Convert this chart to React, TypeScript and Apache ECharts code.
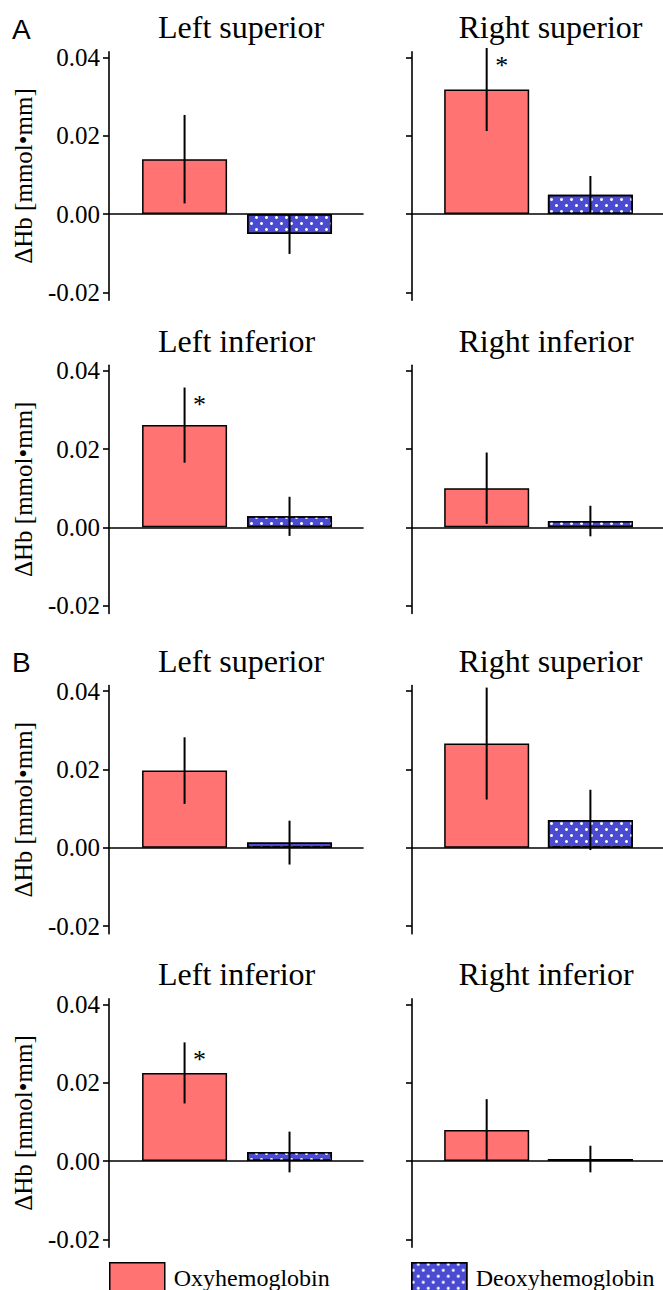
import React, { useEffect, useRef } from 'react';
import * as echarts from 'echarts';

const SERIF = "'Liberation Serif', 'Times New Roman', Times, serif";
const SANS = "'Liberation Sans', Arial, Helvetica, sans-serif";

// ---- data ----
const groupLabels = ['A', 'B'];
const panelTitles = [
  'Left superior', 'Right superior',
  'Left inferior', 'Right inferior',
  'Left superior', 'Right superior',
  'Left inferior', 'Right inferior',
];
const seriesNames = ['Oxyhemoglobin', 'Deoxyhemoglobin'];
const oxyMean = [0.0140, 0.0318, 0.0261, 0.0100, 0.0197, 0.0266, 0.0225, 0.0079];
const oxyErr = [0.0113, 0.0106, 0.0096, 0.0091, 0.0085, 0.0143, 0.0078, 0.0079];
const deoxyMean = [-0.0051, 0.0049, 0.0028, 0.0016, 0.0013, 0.0071, 0.0023, 0.0005];
const deoxyErr = [0.0051, 0.0048, 0.0050, 0.0039, 0.0056, 0.0077, 0.0052, 0.0034];
const oxySignificant = [false, true, true, false, false, false, true, false];
const yTicks = [-0.02, 0, 0.02, 0.04];
const yAxisName = 'ΔHb [mmol•mm]';

// ---- layout ----
const W = 663;
const H = 1290;
const rowZero = [214, 527.3, 847.7, 1161];
const pxPerUnit = 3915;
const yMin = -0.022;
const yMax = 0.0414;
const colLeft = [109, 412];
const colWidth = [254, 251];
const titleX = [158, 458.5];
const RED = '#FF7373';
const BLUE = '#4B4BD2';
const axisLineStyle = { color: '#000', width: 1.6 };

function buildOption() {
  const grid: any[] = [];
  const xAxis: any[] = [];
  const yAxis: any[] = [];
  const series: any[] = [];
  const graphic: any[] = [];

  panelTitles.forEach((title, i) => {
    const row = Math.floor(i / 2);
    const col = i % 2;
    const top = rowZero[row] - yMax * pxPerUnit;
    const height = (yMax - yMin) * pxPerUnit;
    grid.push({
      left: colLeft[col], top, width: colWidth[col], height,
      containLabel: false, outerBoundsMode: 'none',
    });
    xAxis.push({
      type: 'value', gridIndex: i, min: -0.72, max: 1.7,
      axisLine: { show: true, onZero: true, lineStyle: axisLineStyle },
      axisTick: { show: false }, axisLabel: { show: false }, splitLine: { show: false },
    });
    yAxis.push({
      type: 'value', gridIndex: i, min: yMin, max: yMax,
      name: col === 0 ? yAxisName : '',
      nameLocation: 'middle', nameGap: 73,
      nameTextStyle: { fontFamily: SERIF, fontSize: 25, color: '#000' },
      axisLine: { show: true, onZero: false, lineStyle: axisLineStyle },
      axisTick: { show: true, customValues: yTicks, length: 6, lineStyle: axisLineStyle },
      axisLabel: {
        show: col === 0, customValues: yTicks, margin: 9,
        formatter: (v: number) => v.toFixed(2),
        fontFamily: SERIF, fontSize: 25, color: '#000',
      },
      splitLine: { show: false },
    });
    series.push({
      type: 'bar', name: seriesNames[0], xAxisIndex: i, yAxisIndex: i,
      barWidth: 85, barGap: '-100%',
      itemStyle: { color: RED, borderColor: '#000', borderWidth: 1.5 },
      data: [[0, oxyMean[i]]],
    });
    series.push({
      type: 'bar', name: seriesNames[1], xAxisIndex: i, yAxisIndex: i,
      barWidth: 85, barGap: '-100%',
      itemStyle: {
        color: BLUE, borderColor: '#000', borderWidth: 1.5,
        decal: {
          symbol: 'circle', symbolSize: 1, color: '#ffffff',
          dashArrayX: [[3, 7], [0, 5, 3, 2]],
          dashArrayY: [3, 3],
          rotation: 0,
        },
      },
      data: [[1, deoxyMean[i]]],
    });
    series.push({
      type: 'custom', name: 'err' + i, xAxisIndex: i, yAxisIndex: i, z: 4,
      encode: { x: 0, y: [1, 2] },
      data: [
        [0, oxyMean[i] - oxyErr[i], oxyMean[i] + oxyErr[i], oxySignificant[i] ? 1 : 0],
        [1, deoxyMean[i] - deoxyErr[i], deoxyMean[i] + deoxyErr[i], 0],
      ],
      renderItem: (params: any, api: any) => {
        const x = api.value(0);
        const lo = api.coord([x, api.value(1)]);
        const hi = api.coord([x, api.value(2)]);
        const children: any[] = [
          {
            type: 'line',
            shape: { x1: lo[0], y1: lo[1], x2: hi[0], y2: hi[1] },
            style: { stroke: '#000', lineWidth: 2 },
          },
        ];
        if (api.value(3) === 1) {
          children.push({
            type: 'text', x: hi[0] + 15, y: hi[1] + 4,
            style: {
              text: '*', fontSize: 26, fontFamily: SERIF, fill: '#000',
              align: 'center', verticalAlign: 'top',
              textAlign: 'center', textVerticalAlign: 'top',
            },
          });
        }
        return { type: 'group', children };
      },
    });
    graphic.push({
      type: 'text', x: titleX[col], y: rowZero[row] - 176 - 0.3375 * 32,
      style: {
        text: title, fontSize: 32, fontFamily: SERIF, fill: '#000',
        textAlign: 'left', textVerticalAlign: 'middle',
      },
    });
  });

  groupLabels.forEach((g, gi) => {
    const baseline = rowZero[gi * 2] - 175;
    graphic.push({
      type: 'text', x: 12, y: baseline - 0.3465 * 28,
      style: {
        text: g, fontSize: 28, fontFamily: SANS, fill: '#000',
        textAlign: 'left', textVerticalAlign: 'middle',
      },
    });
  });

  const legendBase = {
    top: 1262, padding: 0, itemWidth: 55, itemHeight: 30, icon: 'rect',
    selectedMode: false,
    textStyle: { fontFamily: SERIF, fontSize: 24, color: '#000', padding: [0, 0, 0, 4] },
    itemStyle: { borderColor: '#000', borderWidth: 1.5 },
  };

  return {
    animation: false,
    backgroundColor: '#fff',
    grid, xAxis, yAxis, series, graphic,
    legend: [
      { ...legendBase, left: 109, data: [seriesNames[0]] },
      { ...legendBase, left: 411, data: [seriesNames[1]] },
    ],
  };
}

export default function App() {
  const ref = useRef<HTMLDivElement>(null);
  useEffect(() => {
    if (!ref.current) return;
    const chart = echarts.init(ref.current, undefined, { renderer: 'svg' });
    chart.setOption(buildOption() as any);
    return () => chart.dispose();
  }, []);
  return (
    <div
      ref={ref}
      style={{ position: 'absolute', left: 0, top: 0, width: W, height: H, background: '#fff' }}
    />
  );
}
